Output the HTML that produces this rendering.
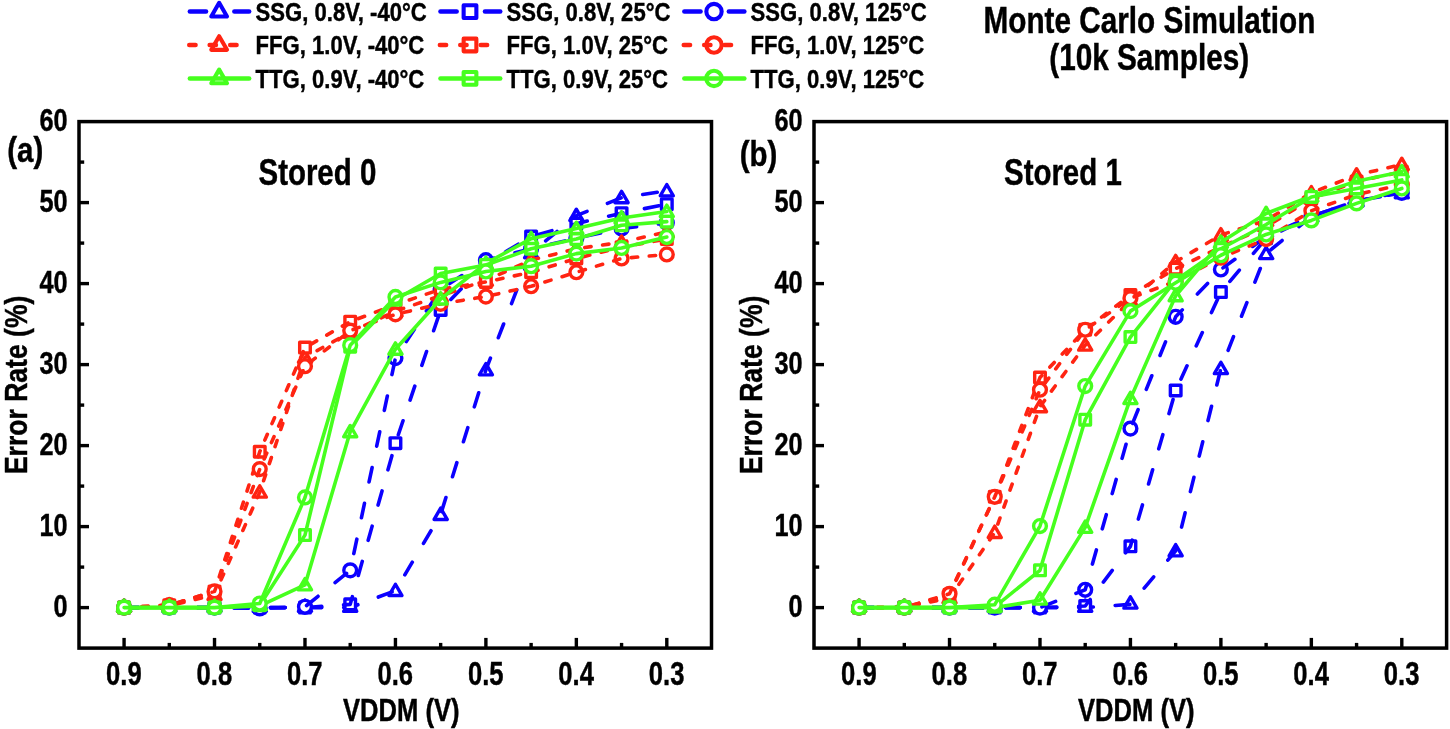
<!DOCTYPE html>
<html><head><meta charset="utf-8"><title>Monte Carlo Simulation</title>
<style>html,body{margin:0;padding:0;background:#fff}svg{display:block;will-change:transform}text{font-family:'Liberation Sans', sans-serif;font-weight:bold;fill:#000;stroke:#000;stroke-width:0.45px}</style></head><body>
<svg width="1450" height="729" viewBox="0 0 1450 729">
<rect width="1450" height="729" fill="#fff"/>
<g stroke-linecap="round" fill="none">
<polygon points="219.15,2.82 227.01,16.44 211.29,16.44" fill="#fff" stroke="#0c00ff" stroke-width="4.1" stroke-linejoin="round"/>
<line x1="189.85" y1="11.6" x2="206.05" y2="11.6" stroke="#0c00ff" stroke-width="4.5"/>
<line x1="234.35" y1="11.6" x2="249.15" y2="11.6" stroke="#0c00ff" stroke-width="4.5"/>
<rect x="463.64" y="5.24" width="12.72" height="12.72" fill="#fff" stroke="#0c00ff" stroke-width="4.1" stroke-linejoin="round"/>
<line x1="440.45" y1="11.6" x2="456.65" y2="11.6" stroke="#0c00ff" stroke-width="4.5"/>
<line x1="484.95" y1="11.6" x2="500.25" y2="11.6" stroke="#0c00ff" stroke-width="4.5"/>
<circle cx="714" cy="11.6" r="7.68" fill="#fff" stroke="#0c00ff" stroke-width="4.1"/>
<line x1="684.35" y1="11.6" x2="700.55" y2="11.6" stroke="#0c00ff" stroke-width="4.5"/>
<line x1="728.85" y1="11.6" x2="744.35" y2="11.6" stroke="#0c00ff" stroke-width="4.5"/>
<polygon points="219.15,36.22 227.01,49.84 211.29,49.84" fill="#fff" stroke="#ff2412" stroke-width="4.1" stroke-linejoin="round"/>
<line x1="189.25" y1="45" x2="195.55" y2="45" stroke="#ff2412" stroke-width="4.5"/>
<line x1="209.65" y1="45" x2="215.95" y2="45" stroke="#ff2412" stroke-width="4.5"/>
<line x1="230.15" y1="45" x2="236.55" y2="45" stroke="#ff2412" stroke-width="4.5"/>
<rect x="463.64" y="38.64" width="12.72" height="12.72" fill="#fff" stroke="#ff2412" stroke-width="4.1" stroke-linejoin="round"/>
<line x1="439.85" y1="45" x2="446.15" y2="45" stroke="#ff2412" stroke-width="4.5"/>
<line x1="460.25" y1="45" x2="466.55" y2="45" stroke="#ff2412" stroke-width="4.5"/>
<line x1="480.75" y1="45" x2="487.15" y2="45" stroke="#ff2412" stroke-width="4.5"/>
<circle cx="714" cy="45" r="7.68" fill="#fff" stroke="#ff2412" stroke-width="4.1"/>
<line x1="683.75" y1="45" x2="690.05" y2="45" stroke="#ff2412" stroke-width="4.5"/>
<line x1="704.15" y1="45" x2="710.45" y2="45" stroke="#ff2412" stroke-width="4.5"/>
<line x1="724.65" y1="45" x2="731.05" y2="45" stroke="#ff2412" stroke-width="4.5"/>
<polygon points="219.15,69.62 227.01,83.24 211.29,83.24" fill="#fff" stroke="#46ff1e" stroke-width="4.1" stroke-linejoin="round"/>
<line x1="189.85" y1="78.4" x2="249.15" y2="78.4" stroke="#46ff1e" stroke-width="4.5"/>
<rect x="463.64" y="72.04" width="12.72" height="12.72" fill="#fff" stroke="#46ff1e" stroke-width="4.1" stroke-linejoin="round"/>
<line x1="440.45" y1="78.4" x2="500.25" y2="78.4" stroke="#46ff1e" stroke-width="4.5"/>
<circle cx="714" cy="78.4" r="7.68" fill="#fff" stroke="#46ff1e" stroke-width="4.1"/>
<line x1="684.35" y1="78.4" x2="744.35" y2="78.4" stroke="#46ff1e" stroke-width="4.5"/>
</g>
<text transform="translate(255.6 20.8) scale(0.83 1)" font-size="26.6" text-anchor="start">SSG, 0.8V, -40°C</text>
<text transform="translate(506.6 20.8) scale(0.83 1)" font-size="26.6" text-anchor="start">SSG, 0.8V, 25°C</text>
<text transform="translate(750.6 20.8) scale(0.83 1)" font-size="26.6" text-anchor="start">SSG, 0.8V, 125°C</text>
<text transform="translate(255.6 54.2) scale(0.83 1)" font-size="26.6" text-anchor="start">FFG, 1.0V, -40°C</text>
<text transform="translate(506.6 54.2) scale(0.83 1)" font-size="26.6" text-anchor="start">FFG, 1.0V, 25°C</text>
<text transform="translate(750.6 54.2) scale(0.83 1)" font-size="26.6" text-anchor="start">FFG, 1.0V, 125°C</text>
<text transform="translate(255.6 87.6) scale(0.83 1)" font-size="26.6" text-anchor="start">TTG, 0.9V, -40°C</text>
<text transform="translate(506.6 87.6) scale(0.83 1)" font-size="26.6" text-anchor="start">TTG, 0.9V, 25°C</text>
<text transform="translate(750.6 87.6) scale(0.83 1)" font-size="26.6" text-anchor="start">TTG, 0.9V, 125°C</text>
<text transform="translate(1149.4 33.4) scale(0.81 1)" font-size="36.7" text-anchor="middle">Monte Carlo Simulation</text>
<text transform="translate(1149.2 69.5) scale(0.81 1)" font-size="36.7" text-anchor="middle">(10k Samples)</text>
<g fill="none" stroke-linecap="round" stroke-linejoin="round">
<polygon points="124.07,600.04 130.62,611.38 117.52,611.38" fill="#fff" stroke="#0c00ff" stroke-width="3.4" stroke-linejoin="round"/>
<polygon points="169.3,600.04 175.85,611.38 162.75,611.38" fill="#fff" stroke="#0c00ff" stroke-width="3.4" stroke-linejoin="round"/>
<polygon points="214.52,600.04 221.07,611.38 207.97,611.38" fill="#fff" stroke="#0c00ff" stroke-width="3.4" stroke-linejoin="round"/>
<polygon points="259.75,600.04 266.3,611.38 253.2,611.38" fill="#fff" stroke="#0c00ff" stroke-width="3.4" stroke-linejoin="round"/>
<polygon points="304.98,600.04 311.53,611.38 298.43,611.38" fill="#fff" stroke="#0c00ff" stroke-width="3.4" stroke-linejoin="round"/>
<polygon points="350.21,600.04 356.76,611.38 343.66,611.38" fill="#fff" stroke="#0c00ff" stroke-width="3.4" stroke-linejoin="round"/>
<polygon points="395.44,584.23 401.99,595.57 388.88,595.57" fill="#fff" stroke="#0c00ff" stroke-width="3.4" stroke-linejoin="round"/>
<polygon points="440.66,508.09 447.21,519.43 434.11,519.43" fill="#fff" stroke="#0c00ff" stroke-width="3.4" stroke-linejoin="round"/>
<polygon points="485.89,363.5 492.44,374.85 479.34,374.85" fill="#fff" stroke="#0c00ff" stroke-width="3.4" stroke-linejoin="round"/>
<polygon points="531.12,246.46 537.67,257.8 524.57,257.8" fill="#fff" stroke="#0c00ff" stroke-width="3.4" stroke-linejoin="round"/>
<polygon points="576.35,209.2 582.89,220.54 569.8,220.54" fill="#fff" stroke="#0c00ff" stroke-width="3.4" stroke-linejoin="round"/>
<polygon points="621.57,191.38 628.12,202.72 615.02,202.72" fill="#fff" stroke="#0c00ff" stroke-width="3.4" stroke-linejoin="round"/>
<polygon points="666.8,184.49 673.35,195.84 660.25,195.84" fill="#fff" stroke="#0c00ff" stroke-width="3.4" stroke-linejoin="round"/>
<polyline points="124.07,607.6 169.3,607.6 214.52,607.6 259.75,607.6 304.98,607.6 350.21,607.6 395.44,590.59 440.66,514.45 485.89,369.87 531.12,252.82 576.35,215.56 621.57,197.74 666.8,190.85" stroke="#0c00ff" stroke-width="3.6" stroke-dasharray="14.7 21.9"/>
<rect x="118.77" y="602.3" width="10.6" height="10.6" fill="#fff" stroke="#0c00ff" stroke-width="3.4" stroke-linejoin="round"/>
<rect x="164" y="602.3" width="10.6" height="10.6" fill="#fff" stroke="#0c00ff" stroke-width="3.4" stroke-linejoin="round"/>
<rect x="209.22" y="602.3" width="10.6" height="10.6" fill="#fff" stroke="#0c00ff" stroke-width="3.4" stroke-linejoin="round"/>
<rect x="254.45" y="602.3" width="10.6" height="10.6" fill="#fff" stroke="#0c00ff" stroke-width="3.4" stroke-linejoin="round"/>
<rect x="299.68" y="602.3" width="10.6" height="10.6" fill="#fff" stroke="#0c00ff" stroke-width="3.4" stroke-linejoin="round"/>
<rect x="344.91" y="599.06" width="10.6" height="10.6" fill="#fff" stroke="#0c00ff" stroke-width="3.4" stroke-linejoin="round"/>
<rect x="390.13" y="437.87" width="10.6" height="10.6" fill="#fff" stroke="#0c00ff" stroke-width="3.4" stroke-linejoin="round"/>
<rect x="435.36" y="304.62" width="10.6" height="10.6" fill="#fff" stroke="#0c00ff" stroke-width="3.4" stroke-linejoin="round"/>
<rect x="480.59" y="258.05" width="10.6" height="10.6" fill="#fff" stroke="#0c00ff" stroke-width="3.4" stroke-linejoin="round"/>
<rect x="525.82" y="231.32" width="10.6" height="10.6" fill="#fff" stroke="#0c00ff" stroke-width="3.4" stroke-linejoin="round"/>
<rect x="571.05" y="218.36" width="10.6" height="10.6" fill="#fff" stroke="#0c00ff" stroke-width="3.4" stroke-linejoin="round"/>
<rect x="616.27" y="207.83" width="10.6" height="10.6" fill="#fff" stroke="#0c00ff" stroke-width="3.4" stroke-linejoin="round"/>
<rect x="661.5" y="198.92" width="10.6" height="10.6" fill="#fff" stroke="#0c00ff" stroke-width="3.4" stroke-linejoin="round"/>
<polyline points="124.07,607.6 169.3,607.6 214.52,607.6 259.75,607.6 304.98,607.6 350.21,604.36 395.44,443.17 440.66,309.93 485.89,263.35 531.12,236.62 576.35,223.66 621.57,213.13 666.8,204.22" stroke="#0c00ff" stroke-width="3.6" stroke-dasharray="14.7 21.9"/>
<circle cx="124.07" cy="607.6" r="6.4" fill="#fff" stroke="#0c00ff" stroke-width="3.4"/>
<circle cx="169.3" cy="607.6" r="6.4" fill="#fff" stroke="#0c00ff" stroke-width="3.4"/>
<circle cx="214.52" cy="607.6" r="6.4" fill="#fff" stroke="#0c00ff" stroke-width="3.4"/>
<circle cx="259.75" cy="608.41" r="6.4" fill="#fff" stroke="#0c00ff" stroke-width="3.4"/>
<circle cx="304.98" cy="606.79" r="6.4" fill="#fff" stroke="#0c00ff" stroke-width="3.4"/>
<circle cx="350.21" cy="570.34" r="6.4" fill="#fff" stroke="#0c00ff" stroke-width="3.4"/>
<circle cx="395.44" cy="358.12" r="6.4" fill="#fff" stroke="#0c00ff" stroke-width="3.4"/>
<circle cx="440.66" cy="289.27" r="6.4" fill="#fff" stroke="#0c00ff" stroke-width="3.4"/>
<circle cx="485.89" cy="260.11" r="6.4" fill="#fff" stroke="#0c00ff" stroke-width="3.4"/>
<circle cx="531.12" cy="248.77" r="6.4" fill="#fff" stroke="#0c00ff" stroke-width="3.4"/>
<circle cx="576.35" cy="238.24" r="6.4" fill="#fff" stroke="#0c00ff" stroke-width="3.4"/>
<circle cx="621.57" cy="228.52" r="6.4" fill="#fff" stroke="#0c00ff" stroke-width="3.4"/>
<circle cx="666.8" cy="222.85" r="6.4" fill="#fff" stroke="#0c00ff" stroke-width="3.4"/>
<polyline points="124.07,607.6 169.3,607.6 214.52,607.6 259.75,608.41 304.98,606.79 350.21,570.34 395.44,358.12 440.66,289.27 485.89,260.11 531.12,248.77 576.35,238.24 621.57,228.52 666.8,222.85" stroke="#0c00ff" stroke-width="3.6" stroke-dasharray="14.7 21.9"/>
<polygon points="124.07,600.04 130.62,611.38 117.52,611.38" fill="#fff" stroke="#ff2412" stroke-width="3.4" stroke-linejoin="round"/>
<polygon points="169.3,598.42 175.85,609.76 162.75,609.76" fill="#fff" stroke="#ff2412" stroke-width="3.4" stroke-linejoin="round"/>
<polygon points="214.52,588.28 221.07,599.62 207.97,599.62" fill="#fff" stroke="#ff2412" stroke-width="3.4" stroke-linejoin="round"/>
<polygon points="259.75,485.81 266.3,497.16 253.2,497.16" fill="#fff" stroke="#ff2412" stroke-width="3.4" stroke-linejoin="round"/>
<polygon points="304.98,350.95 311.53,362.29 298.43,362.29" fill="#fff" stroke="#ff2412" stroke-width="3.4" stroke-linejoin="round"/>
<polygon points="350.21,325.84 356.76,337.18 343.66,337.18" fill="#fff" stroke="#ff2412" stroke-width="3.4" stroke-linejoin="round"/>
<polygon points="395.44,304.78 401.99,316.12 388.88,316.12" fill="#fff" stroke="#ff2412" stroke-width="3.4" stroke-linejoin="round"/>
<polygon points="440.66,289.39 447.21,300.73 434.11,300.73" fill="#fff" stroke="#ff2412" stroke-width="3.4" stroke-linejoin="round"/>
<polygon points="485.89,274 492.44,285.34 479.34,285.34" fill="#fff" stroke="#ff2412" stroke-width="3.4" stroke-linejoin="round"/>
<polygon points="531.12,253.75 537.67,265.09 524.57,265.09" fill="#fff" stroke="#ff2412" stroke-width="3.4" stroke-linejoin="round"/>
<polygon points="576.35,242.41 582.89,253.75 569.8,253.75" fill="#fff" stroke="#ff2412" stroke-width="3.4" stroke-linejoin="round"/>
<polygon points="621.57,235.93 628.12,247.27 615.02,247.27" fill="#fff" stroke="#ff2412" stroke-width="3.4" stroke-linejoin="round"/>
<polygon points="666.8,225.4 673.35,236.74 660.25,236.74" fill="#fff" stroke="#ff2412" stroke-width="3.4" stroke-linejoin="round"/>
<polyline points="124.07,607.6 169.3,605.98 214.52,594.64 259.75,492.18 304.98,357.31 350.21,332.2 395.44,311.14 440.66,295.75 485.89,280.36 531.12,260.11 576.35,248.77 621.57,242.29 666.8,231.76" stroke="#ff2412" stroke-width="3.6" stroke-dasharray="6.4 11.6"/>
<rect x="118.77" y="602.3" width="10.6" height="10.6" fill="#fff" stroke="#ff2412" stroke-width="3.4" stroke-linejoin="round"/>
<rect x="164" y="599.87" width="10.6" height="10.6" fill="#fff" stroke="#ff2412" stroke-width="3.4" stroke-linejoin="round"/>
<rect x="209.22" y="586.1" width="10.6" height="10.6" fill="#fff" stroke="#ff2412" stroke-width="3.4" stroke-linejoin="round"/>
<rect x="254.45" y="446.46" width="10.6" height="10.6" fill="#fff" stroke="#ff2412" stroke-width="3.4" stroke-linejoin="round"/>
<rect x="299.68" y="342.29" width="10.6" height="10.6" fill="#fff" stroke="#ff2412" stroke-width="3.4" stroke-linejoin="round"/>
<rect x="344.91" y="316.37" width="10.6" height="10.6" fill="#fff" stroke="#ff2412" stroke-width="3.4" stroke-linejoin="round"/>
<rect x="390.13" y="299.36" width="10.6" height="10.6" fill="#fff" stroke="#ff2412" stroke-width="3.4" stroke-linejoin="round"/>
<rect x="435.36" y="283.97" width="10.6" height="10.6" fill="#fff" stroke="#ff2412" stroke-width="3.4" stroke-linejoin="round"/>
<rect x="480.59" y="276.68" width="10.6" height="10.6" fill="#fff" stroke="#ff2412" stroke-width="3.4" stroke-linejoin="round"/>
<rect x="525.82" y="266.96" width="10.6" height="10.6" fill="#fff" stroke="#ff2412" stroke-width="3.4" stroke-linejoin="round"/>
<rect x="571.05" y="253.19" width="10.6" height="10.6" fill="#fff" stroke="#ff2412" stroke-width="3.4" stroke-linejoin="round"/>
<rect x="616.27" y="241.85" width="10.6" height="10.6" fill="#fff" stroke="#ff2412" stroke-width="3.4" stroke-linejoin="round"/>
<rect x="661.5" y="233.75" width="10.6" height="10.6" fill="#fff" stroke="#ff2412" stroke-width="3.4" stroke-linejoin="round"/>
<polyline points="124.07,607.6 169.3,605.17 214.52,591.4 259.75,451.76 304.98,347.59 350.21,321.67 395.44,304.66 440.66,289.27 485.89,281.98 531.12,272.26 576.35,258.49 621.57,247.15 666.8,239.05" stroke="#ff2412" stroke-width="3.6" stroke-dasharray="6.4 11.6"/>
<circle cx="124.07" cy="607.6" r="6.4" fill="#fff" stroke="#ff2412" stroke-width="3.4"/>
<circle cx="169.3" cy="605.17" r="6.4" fill="#fff" stroke="#ff2412" stroke-width="3.4"/>
<circle cx="214.52" cy="591.4" r="6.4" fill="#fff" stroke="#ff2412" stroke-width="3.4"/>
<circle cx="259.75" cy="469.09" r="6.4" fill="#fff" stroke="#ff2412" stroke-width="3.4"/>
<circle cx="304.98" cy="366.22" r="6.4" fill="#fff" stroke="#ff2412" stroke-width="3.4"/>
<circle cx="350.21" cy="330.58" r="6.4" fill="#fff" stroke="#ff2412" stroke-width="3.4"/>
<circle cx="395.44" cy="314.38" r="6.4" fill="#fff" stroke="#ff2412" stroke-width="3.4"/>
<circle cx="440.66" cy="303.85" r="6.4" fill="#fff" stroke="#ff2412" stroke-width="3.4"/>
<circle cx="485.89" cy="296.56" r="6.4" fill="#fff" stroke="#ff2412" stroke-width="3.4"/>
<circle cx="531.12" cy="286.27" r="6.4" fill="#fff" stroke="#ff2412" stroke-width="3.4"/>
<circle cx="576.35" cy="272.26" r="6.4" fill="#fff" stroke="#ff2412" stroke-width="3.4"/>
<circle cx="621.57" cy="258.49" r="6.4" fill="#fff" stroke="#ff2412" stroke-width="3.4"/>
<circle cx="666.8" cy="254.44" r="6.4" fill="#fff" stroke="#ff2412" stroke-width="3.4"/>
<polyline points="124.07,607.6 169.3,605.17 214.52,591.4 259.75,469.09 304.98,366.22 350.21,330.58 395.44,314.38 440.66,303.85 485.89,296.56 531.12,286.27 576.35,272.26 621.57,258.49 666.8,254.44" stroke="#ff2412" stroke-width="3.6" stroke-dasharray="6.4 11.6"/>
<polygon points="124.07,600.04 130.62,611.38 117.52,611.38" fill="#fff" stroke="#46ff1e" stroke-width="3.4" stroke-linejoin="round"/>
<polygon points="169.3,600.04 175.85,611.38 162.75,611.38" fill="#fff" stroke="#46ff1e" stroke-width="3.4" stroke-linejoin="round"/>
<polygon points="214.52,600.04 221.07,611.38 207.97,611.38" fill="#fff" stroke="#46ff1e" stroke-width="3.4" stroke-linejoin="round"/>
<polygon points="259.75,598.42 266.3,609.76 253.2,609.76" fill="#fff" stroke="#46ff1e" stroke-width="3.4" stroke-linejoin="round"/>
<polygon points="304.98,578.56 311.53,589.9 298.43,589.9" fill="#fff" stroke="#46ff1e" stroke-width="3.4" stroke-linejoin="round"/>
<polygon points="350.21,425.47 356.76,436.81 343.66,436.81" fill="#fff" stroke="#46ff1e" stroke-width="3.4" stroke-linejoin="round"/>
<polygon points="395.44,342.85 401.99,354.19 388.88,354.19" fill="#fff" stroke="#46ff1e" stroke-width="3.4" stroke-linejoin="round"/>
<polygon points="440.66,292.63 447.21,303.97 434.11,303.97" fill="#fff" stroke="#46ff1e" stroke-width="3.4" stroke-linejoin="round"/>
<polygon points="485.89,256.99 492.44,268.33 479.34,268.33" fill="#fff" stroke="#46ff1e" stroke-width="3.4" stroke-linejoin="round"/>
<polygon points="531.12,232.28 537.67,243.63 524.57,243.63" fill="#fff" stroke="#46ff1e" stroke-width="3.4" stroke-linejoin="round"/>
<polygon points="576.35,222.16 582.89,233.5 569.8,233.5" fill="#fff" stroke="#46ff1e" stroke-width="3.4" stroke-linejoin="round"/>
<polygon points="621.57,211.63 628.12,222.97 615.02,222.97" fill="#fff" stroke="#46ff1e" stroke-width="3.4" stroke-linejoin="round"/>
<polygon points="666.8,205.15 673.35,216.49 660.25,216.49" fill="#fff" stroke="#46ff1e" stroke-width="3.4" stroke-linejoin="round"/>
<polyline points="124.07,607.6 169.3,607.6 214.52,607.6 259.75,605.98 304.98,584.92 350.21,431.83 395.44,349.21 440.66,298.99 485.89,263.35 531.12,238.65 576.35,228.52 621.57,217.99 666.8,211.51" stroke="#46ff1e" stroke-width="3.6"/>
<rect x="118.77" y="602.3" width="10.6" height="10.6" fill="#fff" stroke="#46ff1e" stroke-width="3.4" stroke-linejoin="round"/>
<rect x="164" y="602.3" width="10.6" height="10.6" fill="#fff" stroke="#46ff1e" stroke-width="3.4" stroke-linejoin="round"/>
<rect x="209.22" y="602.3" width="10.6" height="10.6" fill="#fff" stroke="#46ff1e" stroke-width="3.4" stroke-linejoin="round"/>
<rect x="254.45" y="599.87" width="10.6" height="10.6" fill="#fff" stroke="#46ff1e" stroke-width="3.4" stroke-linejoin="round"/>
<rect x="299.68" y="529.81" width="10.6" height="10.6" fill="#fff" stroke="#46ff1e" stroke-width="3.4" stroke-linejoin="round"/>
<rect x="344.91" y="341.48" width="10.6" height="10.6" fill="#fff" stroke="#46ff1e" stroke-width="3.4" stroke-linejoin="round"/>
<rect x="390.13" y="294.5" width="10.6" height="10.6" fill="#fff" stroke="#46ff1e" stroke-width="3.4" stroke-linejoin="round"/>
<rect x="435.36" y="268.18" width="10.6" height="10.6" fill="#fff" stroke="#46ff1e" stroke-width="3.4" stroke-linejoin="round"/>
<rect x="480.59" y="259.67" width="10.6" height="10.6" fill="#fff" stroke="#46ff1e" stroke-width="3.4" stroke-linejoin="round"/>
<rect x="525.82" y="243.47" width="10.6" height="10.6" fill="#fff" stroke="#46ff1e" stroke-width="3.4" stroke-linejoin="round"/>
<rect x="571.05" y="233.75" width="10.6" height="10.6" fill="#fff" stroke="#46ff1e" stroke-width="3.4" stroke-linejoin="round"/>
<rect x="616.27" y="219.98" width="10.6" height="10.6" fill="#fff" stroke="#46ff1e" stroke-width="3.4" stroke-linejoin="round"/>
<rect x="661.5" y="216.34" width="10.6" height="10.6" fill="#fff" stroke="#46ff1e" stroke-width="3.4" stroke-linejoin="round"/>
<polyline points="124.07,607.6 169.3,607.6 214.52,607.6 259.75,605.17 304.98,535.11 350.21,346.78 395.44,299.8 440.66,273.48 485.89,264.97 531.12,248.77 576.35,239.05 621.57,225.28 666.8,221.64" stroke="#46ff1e" stroke-width="3.6"/>
<circle cx="124.07" cy="607.6" r="6.4" fill="#fff" stroke="#46ff1e" stroke-width="3.4"/>
<circle cx="169.3" cy="607.6" r="6.4" fill="#fff" stroke="#46ff1e" stroke-width="3.4"/>
<circle cx="214.52" cy="607.6" r="6.4" fill="#fff" stroke="#46ff1e" stroke-width="3.4"/>
<circle cx="259.75" cy="603.55" r="6.4" fill="#fff" stroke="#46ff1e" stroke-width="3.4"/>
<circle cx="304.98" cy="497.44" r="6.4" fill="#fff" stroke="#46ff1e" stroke-width="3.4"/>
<circle cx="350.21" cy="345.16" r="6.4" fill="#fff" stroke="#46ff1e" stroke-width="3.4"/>
<circle cx="395.44" cy="296.96" r="6.4" fill="#fff" stroke="#46ff1e" stroke-width="3.4"/>
<circle cx="440.66" cy="282.39" r="6.4" fill="#fff" stroke="#46ff1e" stroke-width="3.4"/>
<circle cx="485.89" cy="271.45" r="6.4" fill="#fff" stroke="#46ff1e" stroke-width="3.4"/>
<circle cx="531.12" cy="266.19" r="6.4" fill="#fff" stroke="#46ff1e" stroke-width="3.4"/>
<circle cx="576.35" cy="253.63" r="6.4" fill="#fff" stroke="#46ff1e" stroke-width="3.4"/>
<circle cx="621.57" cy="247.96" r="6.4" fill="#fff" stroke="#46ff1e" stroke-width="3.4"/>
<circle cx="666.8" cy="237.03" r="6.4" fill="#fff" stroke="#46ff1e" stroke-width="3.4"/>
<polyline points="124.07,607.6 169.3,607.6 214.52,607.6 259.75,603.55 304.98,497.44 350.21,345.16 395.44,296.96 440.66,282.39 485.89,271.45 531.12,266.19 576.35,253.63 621.57,247.96 666.8,237.03" stroke="#46ff1e" stroke-width="3.6"/>
</g>
<rect x="79" y="121.6" width="632.5" height="526.5" fill="none" stroke="#000" stroke-width="3.5"/>
<g stroke="#000" stroke-width="3.4">
<line x1="79" y1="607.6" x2="89" y2="607.6"/>
<line x1="79" y1="567.1" x2="84.2" y2="567.1"/>
<line x1="79" y1="526.6" x2="89" y2="526.6"/>
<line x1="79" y1="486.1" x2="84.2" y2="486.1"/>
<line x1="79" y1="445.6" x2="89" y2="445.6"/>
<line x1="79" y1="405.1" x2="84.2" y2="405.1"/>
<line x1="79" y1="364.6" x2="89" y2="364.6"/>
<line x1="79" y1="324.1" x2="84.2" y2="324.1"/>
<line x1="79" y1="283.6" x2="89" y2="283.6"/>
<line x1="79" y1="243.1" x2="84.2" y2="243.1"/>
<line x1="79" y1="202.6" x2="89" y2="202.6"/>
<line x1="79" y1="162.1" x2="84.2" y2="162.1"/>
<line x1="124.07" y1="648.1" x2="124.07" y2="637.9"/>
<line x1="169.3" y1="648.1" x2="169.3" y2="642.9"/>
<line x1="214.52" y1="648.1" x2="214.52" y2="637.9"/>
<line x1="259.75" y1="648.1" x2="259.75" y2="642.9"/>
<line x1="304.98" y1="648.1" x2="304.98" y2="637.9"/>
<line x1="350.21" y1="648.1" x2="350.21" y2="642.9"/>
<line x1="395.44" y1="648.1" x2="395.44" y2="637.9"/>
<line x1="440.66" y1="648.1" x2="440.66" y2="642.9"/>
<line x1="485.89" y1="648.1" x2="485.89" y2="637.9"/>
<line x1="531.12" y1="648.1" x2="531.12" y2="642.9"/>
<line x1="576.35" y1="648.1" x2="576.35" y2="637.9"/>
<line x1="621.57" y1="648.1" x2="621.57" y2="642.9"/>
<line x1="666.8" y1="648.1" x2="666.8" y2="637.9"/>
</g>
<text transform="translate(67.6 617.3) scale(0.79 1)" font-size="32" text-anchor="end">0</text>
<text transform="translate(67.6 536.3) scale(0.79 1)" font-size="32" text-anchor="end">10</text>
<text transform="translate(67.6 455.3) scale(0.79 1)" font-size="32" text-anchor="end">20</text>
<text transform="translate(67.6 374.3) scale(0.79 1)" font-size="32" text-anchor="end">30</text>
<text transform="translate(67.6 293.3) scale(0.79 1)" font-size="32" text-anchor="end">40</text>
<text transform="translate(67.6 212.3) scale(0.79 1)" font-size="32" text-anchor="end">50</text>
<text transform="translate(67.6 131.3) scale(0.79 1)" font-size="32" text-anchor="end">60</text>
<text transform="translate(123.87 685) scale(0.79 1)" font-size="32.4" text-anchor="middle">0.9</text>
<text transform="translate(214.32 685) scale(0.79 1)" font-size="32.4" text-anchor="middle">0.8</text>
<text transform="translate(304.78 685) scale(0.79 1)" font-size="32.4" text-anchor="middle">0.7</text>
<text transform="translate(395.24 685) scale(0.79 1)" font-size="32.4" text-anchor="middle">0.6</text>
<text transform="translate(485.69 685) scale(0.79 1)" font-size="32.4" text-anchor="middle">0.5</text>
<text transform="translate(576.14 685) scale(0.79 1)" font-size="32.4" text-anchor="middle">0.4</text>
<text transform="translate(666.6 685) scale(0.79 1)" font-size="32.4" text-anchor="middle">0.3</text>
<text transform="translate(401.25 721) scale(0.8 1)" font-size="32" text-anchor="middle">VDDM (V)</text>
<text transform="translate(27.4 384.85) rotate(-90) scale(0.83 1)" font-size="32" text-anchor="middle">Error Rate (%)</text>
<g fill="none" stroke-linecap="round" stroke-linejoin="round">
<polygon points="859.07,600.04 865.62,611.38 852.52,611.38" fill="#fff" stroke="#0c00ff" stroke-width="3.4" stroke-linejoin="round"/>
<polygon points="904.3,600.04 910.85,611.38 897.75,611.38" fill="#fff" stroke="#0c00ff" stroke-width="3.4" stroke-linejoin="round"/>
<polygon points="949.52,600.04 956.07,611.38 942.98,611.38" fill="#fff" stroke="#0c00ff" stroke-width="3.4" stroke-linejoin="round"/>
<polygon points="994.75,600.04 1001.3,611.38 988.2,611.38" fill="#fff" stroke="#0c00ff" stroke-width="3.4" stroke-linejoin="round"/>
<polygon points="1039.98,600.04 1046.53,611.38 1033.43,611.38" fill="#fff" stroke="#0c00ff" stroke-width="3.4" stroke-linejoin="round"/>
<polygon points="1085.21,600.04 1091.76,611.38 1078.66,611.38" fill="#fff" stroke="#0c00ff" stroke-width="3.4" stroke-linejoin="round"/>
<polygon points="1130.43,596.8 1136.98,608.14 1123.88,608.14" fill="#fff" stroke="#0c00ff" stroke-width="3.4" stroke-linejoin="round"/>
<polygon points="1175.66,544.54 1182.21,555.88 1169.11,555.88" fill="#fff" stroke="#0c00ff" stroke-width="3.4" stroke-linejoin="round"/>
<polygon points="1220.89,362.29 1227.44,373.63 1214.34,373.63" fill="#fff" stroke="#0c00ff" stroke-width="3.4" stroke-linejoin="round"/>
<polygon points="1266.12,247.27 1272.67,258.61 1259.57,258.61" fill="#fff" stroke="#0c00ff" stroke-width="3.4" stroke-linejoin="round"/>
<polygon points="1311.35,210.01 1317.89,221.35 1304.8,221.35" fill="#fff" stroke="#0c00ff" stroke-width="3.4" stroke-linejoin="round"/>
<polygon points="1356.57,194.62 1363.12,205.96 1350.02,205.96" fill="#fff" stroke="#0c00ff" stroke-width="3.4" stroke-linejoin="round"/>
<polygon points="1401.8,186.52 1408.35,197.86 1395.25,197.86" fill="#fff" stroke="#0c00ff" stroke-width="3.4" stroke-linejoin="round"/>
<polyline points="859.07,607.6 904.3,607.6 949.52,607.6 994.75,607.6 1039.98,607.6 1085.21,607.6 1130.43,604.36 1175.66,550.9 1220.89,368.65 1266.12,253.63 1311.35,216.37 1356.57,200.98 1401.8,192.88" stroke="#0c00ff" stroke-width="3.6" stroke-dasharray="14.7 21.9"/>
<rect x="853.77" y="602.3" width="10.6" height="10.6" fill="#fff" stroke="#0c00ff" stroke-width="3.4" stroke-linejoin="round"/>
<rect x="899" y="602.3" width="10.6" height="10.6" fill="#fff" stroke="#0c00ff" stroke-width="3.4" stroke-linejoin="round"/>
<rect x="944.23" y="602.3" width="10.6" height="10.6" fill="#fff" stroke="#0c00ff" stroke-width="3.4" stroke-linejoin="round"/>
<rect x="989.45" y="602.3" width="10.6" height="10.6" fill="#fff" stroke="#0c00ff" stroke-width="3.4" stroke-linejoin="round"/>
<rect x="1034.68" y="602.3" width="10.6" height="10.6" fill="#fff" stroke="#0c00ff" stroke-width="3.4" stroke-linejoin="round"/>
<rect x="1079.91" y="600.68" width="10.6" height="10.6" fill="#fff" stroke="#0c00ff" stroke-width="3.4" stroke-linejoin="round"/>
<rect x="1125.13" y="541.06" width="10.6" height="10.6" fill="#fff" stroke="#0c00ff" stroke-width="3.4" stroke-linejoin="round"/>
<rect x="1170.36" y="385.22" width="10.6" height="10.6" fill="#fff" stroke="#0c00ff" stroke-width="3.4" stroke-linejoin="round"/>
<rect x="1215.59" y="286.8" width="10.6" height="10.6" fill="#fff" stroke="#0c00ff" stroke-width="3.4" stroke-linejoin="round"/>
<rect x="1260.82" y="232.94" width="10.6" height="10.6" fill="#fff" stroke="#0c00ff" stroke-width="3.4" stroke-linejoin="round"/>
<rect x="1306.05" y="211.07" width="10.6" height="10.6" fill="#fff" stroke="#0c00ff" stroke-width="3.4" stroke-linejoin="round"/>
<rect x="1351.27" y="195.68" width="10.6" height="10.6" fill="#fff" stroke="#0c00ff" stroke-width="3.4" stroke-linejoin="round"/>
<rect x="1396.5" y="186.77" width="10.6" height="10.6" fill="#fff" stroke="#0c00ff" stroke-width="3.4" stroke-linejoin="round"/>
<polyline points="859.07,607.6 904.3,607.6 949.52,607.6 994.75,607.6 1039.98,607.6 1085.21,605.98 1130.43,546.36 1175.66,390.52 1220.89,292.1 1266.12,238.24 1311.35,216.37 1356.57,200.98 1401.8,192.07" stroke="#0c00ff" stroke-width="3.6" stroke-dasharray="14.7 21.9"/>
<circle cx="859.07" cy="607.6" r="6.4" fill="#fff" stroke="#0c00ff" stroke-width="3.4"/>
<circle cx="904.3" cy="607.6" r="6.4" fill="#fff" stroke="#0c00ff" stroke-width="3.4"/>
<circle cx="949.52" cy="607.6" r="6.4" fill="#fff" stroke="#0c00ff" stroke-width="3.4"/>
<circle cx="994.75" cy="607.6" r="6.4" fill="#fff" stroke="#0c00ff" stroke-width="3.4"/>
<circle cx="1039.98" cy="607.6" r="6.4" fill="#fff" stroke="#0c00ff" stroke-width="3.4"/>
<circle cx="1085.21" cy="589.78" r="6.4" fill="#fff" stroke="#0c00ff" stroke-width="3.4"/>
<circle cx="1130.43" cy="428.59" r="6.4" fill="#fff" stroke="#0c00ff" stroke-width="3.4"/>
<circle cx="1175.66" cy="316.81" r="6.4" fill="#fff" stroke="#0c00ff" stroke-width="3.4"/>
<circle cx="1220.89" cy="269.43" r="6.4" fill="#fff" stroke="#0c00ff" stroke-width="3.4"/>
<circle cx="1266.12" cy="236.62" r="6.4" fill="#fff" stroke="#0c00ff" stroke-width="3.4"/>
<circle cx="1311.35" cy="216.37" r="6.4" fill="#fff" stroke="#0c00ff" stroke-width="3.4"/>
<circle cx="1356.57" cy="200.98" r="6.4" fill="#fff" stroke="#0c00ff" stroke-width="3.4"/>
<circle cx="1401.8" cy="192.88" r="6.4" fill="#fff" stroke="#0c00ff" stroke-width="3.4"/>
<polyline points="859.07,607.6 904.3,607.6 949.52,607.6 994.75,607.6 1039.98,607.6 1085.21,589.78 1130.43,428.59 1175.66,316.81 1220.89,269.43 1266.12,236.62 1311.35,216.37 1356.57,200.98 1401.8,192.88" stroke="#0c00ff" stroke-width="3.6" stroke-dasharray="14.7 21.9"/>
<polygon points="859.07,600.04 865.62,611.38 852.52,611.38" fill="#fff" stroke="#ff2412" stroke-width="3.4" stroke-linejoin="round"/>
<polygon points="904.3,600.04 910.85,611.38 897.75,611.38" fill="#fff" stroke="#ff2412" stroke-width="3.4" stroke-linejoin="round"/>
<polygon points="949.52,591.52 956.07,602.86 942.98,602.86" fill="#fff" stroke="#ff2412" stroke-width="3.4" stroke-linejoin="round"/>
<polygon points="994.75,526.15 1001.3,537.49 988.2,537.49" fill="#fff" stroke="#ff2412" stroke-width="3.4" stroke-linejoin="round"/>
<polygon points="1039.98,400.36 1046.53,411.7 1033.43,411.7" fill="#fff" stroke="#ff2412" stroke-width="3.4" stroke-linejoin="round"/>
<polygon points="1085.21,338.8 1091.76,350.14 1078.66,350.14" fill="#fff" stroke="#ff2412" stroke-width="3.4" stroke-linejoin="round"/>
<polygon points="1130.43,294.25 1136.98,305.59 1123.88,305.59" fill="#fff" stroke="#ff2412" stroke-width="3.4" stroke-linejoin="round"/>
<polygon points="1175.66,255.37 1182.21,266.71 1169.11,266.71" fill="#fff" stroke="#ff2412" stroke-width="3.4" stroke-linejoin="round"/>
<polygon points="1220.89,228.64 1227.44,239.98 1214.34,239.98" fill="#fff" stroke="#ff2412" stroke-width="3.4" stroke-linejoin="round"/>
<polygon points="1266.12,214.06 1272.67,225.4 1259.57,225.4" fill="#fff" stroke="#ff2412" stroke-width="3.4" stroke-linejoin="round"/>
<polygon points="1311.35,186.52 1317.89,197.86 1304.8,197.86" fill="#fff" stroke="#ff2412" stroke-width="3.4" stroke-linejoin="round"/>
<polygon points="1356.57,168.7 1363.12,180.04 1350.02,180.04" fill="#fff" stroke="#ff2412" stroke-width="3.4" stroke-linejoin="round"/>
<polygon points="1401.8,158.17 1408.35,169.51 1395.25,169.51" fill="#fff" stroke="#ff2412" stroke-width="3.4" stroke-linejoin="round"/>
<polyline points="859.07,607.6 904.3,607.6 949.52,597.88 994.75,532.51 1039.98,406.72 1085.21,345.16 1130.43,300.61 1175.66,261.73 1220.89,235 1266.12,220.42 1311.35,192.88 1356.57,175.06 1401.8,164.53" stroke="#ff2412" stroke-width="3.6" stroke-dasharray="6.4 11.6"/>
<rect x="853.77" y="602.3" width="10.6" height="10.6" fill="#fff" stroke="#ff2412" stroke-width="3.4" stroke-linejoin="round"/>
<rect x="899" y="602.3" width="10.6" height="10.6" fill="#fff" stroke="#ff2412" stroke-width="3.4" stroke-linejoin="round"/>
<rect x="944.23" y="589.34" width="10.6" height="10.6" fill="#fff" stroke="#ff2412" stroke-width="3.4" stroke-linejoin="round"/>
<rect x="989.45" y="491.49" width="10.6" height="10.6" fill="#fff" stroke="#ff2412" stroke-width="3.4" stroke-linejoin="round"/>
<rect x="1034.68" y="372.26" width="10.6" height="10.6" fill="#fff" stroke="#ff2412" stroke-width="3.4" stroke-linejoin="round"/>
<rect x="1079.91" y="324.47" width="10.6" height="10.6" fill="#fff" stroke="#ff2412" stroke-width="3.4" stroke-linejoin="round"/>
<rect x="1125.13" y="289.64" width="10.6" height="10.6" fill="#fff" stroke="#ff2412" stroke-width="3.4" stroke-linejoin="round"/>
<rect x="1170.36" y="263.4" width="10.6" height="10.6" fill="#fff" stroke="#ff2412" stroke-width="3.4" stroke-linejoin="round"/>
<rect x="1215.59" y="241.85" width="10.6" height="10.6" fill="#fff" stroke="#ff2412" stroke-width="3.4" stroke-linejoin="round"/>
<rect x="1260.82" y="221.6" width="10.6" height="10.6" fill="#fff" stroke="#ff2412" stroke-width="3.4" stroke-linejoin="round"/>
<rect x="1306.05" y="193.25" width="10.6" height="10.6" fill="#fff" stroke="#ff2412" stroke-width="3.4" stroke-linejoin="round"/>
<rect x="1351.27" y="176.24" width="10.6" height="10.6" fill="#fff" stroke="#ff2412" stroke-width="3.4" stroke-linejoin="round"/>
<rect x="1396.5" y="166.52" width="10.6" height="10.6" fill="#fff" stroke="#ff2412" stroke-width="3.4" stroke-linejoin="round"/>
<polyline points="859.07,607.6 904.3,607.6 949.52,594.64 994.75,496.79 1039.98,377.56 1085.21,329.77 1130.43,294.94 1175.66,268.7 1220.89,247.15 1266.12,226.9 1311.35,198.55 1356.57,181.54 1401.8,171.82" stroke="#ff2412" stroke-width="3.6" stroke-dasharray="6.4 11.6"/>
<circle cx="859.07" cy="607.6" r="6.4" fill="#fff" stroke="#ff2412" stroke-width="3.4"/>
<circle cx="904.3" cy="607.6" r="6.4" fill="#fff" stroke="#ff2412" stroke-width="3.4"/>
<circle cx="949.52" cy="593.83" r="6.4" fill="#fff" stroke="#ff2412" stroke-width="3.4"/>
<circle cx="994.75" cy="496.79" r="6.4" fill="#fff" stroke="#ff2412" stroke-width="3.4"/>
<circle cx="1039.98" cy="389.71" r="6.4" fill="#fff" stroke="#ff2412" stroke-width="3.4"/>
<circle cx="1085.21" cy="329.77" r="6.4" fill="#fff" stroke="#ff2412" stroke-width="3.4"/>
<circle cx="1130.43" cy="298.18" r="6.4" fill="#fff" stroke="#ff2412" stroke-width="3.4"/>
<circle cx="1175.66" cy="281.17" r="6.4" fill="#fff" stroke="#ff2412" stroke-width="3.4"/>
<circle cx="1220.89" cy="257.68" r="6.4" fill="#fff" stroke="#ff2412" stroke-width="3.4"/>
<circle cx="1266.12" cy="239.05" r="6.4" fill="#fff" stroke="#ff2412" stroke-width="3.4"/>
<circle cx="1311.35" cy="210.7" r="6.4" fill="#fff" stroke="#ff2412" stroke-width="3.4"/>
<circle cx="1356.57" cy="194.5" r="6.4" fill="#fff" stroke="#ff2412" stroke-width="3.4"/>
<circle cx="1401.8" cy="184.78" r="6.4" fill="#fff" stroke="#ff2412" stroke-width="3.4"/>
<polyline points="859.07,607.6 904.3,607.6 949.52,593.83 994.75,496.79 1039.98,389.71 1085.21,329.77 1130.43,298.18 1175.66,281.17 1220.89,257.68 1266.12,239.05 1311.35,210.7 1356.57,194.5 1401.8,184.78" stroke="#ff2412" stroke-width="3.6" stroke-dasharray="6.4 11.6"/>
<polygon points="859.07,600.04 865.62,611.38 852.52,611.38" fill="#fff" stroke="#46ff1e" stroke-width="3.4" stroke-linejoin="round"/>
<polygon points="904.3,600.04 910.85,611.38 897.75,611.38" fill="#fff" stroke="#46ff1e" stroke-width="3.4" stroke-linejoin="round"/>
<polygon points="949.52,600.04 956.07,611.38 942.98,611.38" fill="#fff" stroke="#46ff1e" stroke-width="3.4" stroke-linejoin="round"/>
<polygon points="994.75,600.04 1001.3,611.38 988.2,611.38" fill="#fff" stroke="#46ff1e" stroke-width="3.4" stroke-linejoin="round"/>
<polygon points="1039.98,592.75 1046.53,604.09 1033.43,604.09" fill="#fff" stroke="#46ff1e" stroke-width="3.4" stroke-linejoin="round"/>
<polygon points="1085.21,521.05 1091.76,532.39 1078.66,532.39" fill="#fff" stroke="#46ff1e" stroke-width="3.4" stroke-linejoin="round"/>
<polygon points="1130.43,392.26 1136.98,403.6 1123.88,403.6" fill="#fff" stroke="#46ff1e" stroke-width="3.4" stroke-linejoin="round"/>
<polygon points="1175.66,289.39 1182.21,300.73 1169.11,300.73" fill="#fff" stroke="#46ff1e" stroke-width="3.4" stroke-linejoin="round"/>
<polygon points="1220.89,235.93 1227.44,247.27 1214.34,247.27" fill="#fff" stroke="#46ff1e" stroke-width="3.4" stroke-linejoin="round"/>
<polygon points="1266.12,207.17 1272.67,218.52 1259.57,218.52" fill="#fff" stroke="#46ff1e" stroke-width="3.4" stroke-linejoin="round"/>
<polygon points="1311.35,189.76 1317.89,201.1 1304.8,201.1" fill="#fff" stroke="#46ff1e" stroke-width="3.4" stroke-linejoin="round"/>
<polygon points="1356.57,174.77 1363.12,186.12 1350.02,186.12" fill="#fff" stroke="#46ff1e" stroke-width="3.4" stroke-linejoin="round"/>
<polygon points="1401.8,165.46 1408.35,176.8 1395.25,176.8" fill="#fff" stroke="#46ff1e" stroke-width="3.4" stroke-linejoin="round"/>
<polyline points="859.07,607.6 904.3,607.6 949.52,607.6 994.75,607.6 1039.98,600.31 1085.21,527.41 1130.43,398.62 1175.66,295.75 1220.89,242.29 1266.12,213.54 1311.35,196.12 1356.57,181.14 1401.8,171.82" stroke="#46ff1e" stroke-width="3.6"/>
<rect x="853.77" y="602.3" width="10.6" height="10.6" fill="#fff" stroke="#46ff1e" stroke-width="3.4" stroke-linejoin="round"/>
<rect x="899" y="602.3" width="10.6" height="10.6" fill="#fff" stroke="#46ff1e" stroke-width="3.4" stroke-linejoin="round"/>
<rect x="944.23" y="602.3" width="10.6" height="10.6" fill="#fff" stroke="#46ff1e" stroke-width="3.4" stroke-linejoin="round"/>
<rect x="989.45" y="601.49" width="10.6" height="10.6" fill="#fff" stroke="#46ff1e" stroke-width="3.4" stroke-linejoin="round"/>
<rect x="1034.68" y="565.04" width="10.6" height="10.6" fill="#fff" stroke="#46ff1e" stroke-width="3.4" stroke-linejoin="round"/>
<rect x="1079.91" y="414.38" width="10.6" height="10.6" fill="#fff" stroke="#46ff1e" stroke-width="3.4" stroke-linejoin="round"/>
<rect x="1125.13" y="331.76" width="10.6" height="10.6" fill="#fff" stroke="#46ff1e" stroke-width="3.4" stroke-linejoin="round"/>
<rect x="1170.36" y="275.06" width="10.6" height="10.6" fill="#fff" stroke="#46ff1e" stroke-width="3.4" stroke-linejoin="round"/>
<rect x="1215.59" y="243.47" width="10.6" height="10.6" fill="#fff" stroke="#46ff1e" stroke-width="3.4" stroke-linejoin="round"/>
<rect x="1260.82" y="219.17" width="10.6" height="10.6" fill="#fff" stroke="#46ff1e" stroke-width="3.4" stroke-linejoin="round"/>
<rect x="1306.05" y="191.63" width="10.6" height="10.6" fill="#fff" stroke="#46ff1e" stroke-width="3.4" stroke-linejoin="round"/>
<rect x="1351.27" y="183.12" width="10.6" height="10.6" fill="#fff" stroke="#46ff1e" stroke-width="3.4" stroke-linejoin="round"/>
<rect x="1396.5" y="174.62" width="10.6" height="10.6" fill="#fff" stroke="#46ff1e" stroke-width="3.4" stroke-linejoin="round"/>
<polyline points="859.07,607.6 904.3,607.6 949.52,607.6 994.75,606.79 1039.98,570.34 1085.21,419.68 1130.43,337.06 1175.66,280.36 1220.89,248.77 1266.12,224.47 1311.35,196.93 1356.57,188.43 1401.8,179.92" stroke="#46ff1e" stroke-width="3.6"/>
<circle cx="859.07" cy="607.6" r="6.4" fill="#fff" stroke="#46ff1e" stroke-width="3.4"/>
<circle cx="904.3" cy="607.6" r="6.4" fill="#fff" stroke="#46ff1e" stroke-width="3.4"/>
<circle cx="949.52" cy="607.6" r="6.4" fill="#fff" stroke="#46ff1e" stroke-width="3.4"/>
<circle cx="994.75" cy="604.68" r="6.4" fill="#fff" stroke="#46ff1e" stroke-width="3.4"/>
<circle cx="1039.98" cy="526.03" r="6.4" fill="#fff" stroke="#46ff1e" stroke-width="3.4"/>
<circle cx="1085.21" cy="386.06" r="6.4" fill="#fff" stroke="#46ff1e" stroke-width="3.4"/>
<circle cx="1130.43" cy="311.14" r="6.4" fill="#fff" stroke="#46ff1e" stroke-width="3.4"/>
<circle cx="1175.66" cy="282.79" r="6.4" fill="#fff" stroke="#46ff1e" stroke-width="3.4"/>
<circle cx="1220.89" cy="255.25" r="6.4" fill="#fff" stroke="#46ff1e" stroke-width="3.4"/>
<circle cx="1266.12" cy="234.43" r="6.4" fill="#fff" stroke="#46ff1e" stroke-width="3.4"/>
<circle cx="1311.35" cy="220.42" r="6.4" fill="#fff" stroke="#46ff1e" stroke-width="3.4"/>
<circle cx="1356.57" cy="203.41" r="6.4" fill="#fff" stroke="#46ff1e" stroke-width="3.4"/>
<circle cx="1401.8" cy="188.43" r="6.4" fill="#fff" stroke="#46ff1e" stroke-width="3.4"/>
<polyline points="859.07,607.6 904.3,607.6 949.52,607.6 994.75,604.68 1039.98,526.03 1085.21,386.06 1130.43,311.14 1175.66,282.79 1220.89,255.25 1266.12,234.43 1311.35,220.42 1356.57,203.41 1401.8,188.43" stroke="#46ff1e" stroke-width="3.6"/>
</g>
<rect x="814" y="121.6" width="632.6" height="526.5" fill="none" stroke="#000" stroke-width="3.5"/>
<g stroke="#000" stroke-width="3.4">
<line x1="814" y1="607.6" x2="824" y2="607.6"/>
<line x1="814" y1="567.1" x2="819.2" y2="567.1"/>
<line x1="814" y1="526.6" x2="824" y2="526.6"/>
<line x1="814" y1="486.1" x2="819.2" y2="486.1"/>
<line x1="814" y1="445.6" x2="824" y2="445.6"/>
<line x1="814" y1="405.1" x2="819.2" y2="405.1"/>
<line x1="814" y1="364.6" x2="824" y2="364.6"/>
<line x1="814" y1="324.1" x2="819.2" y2="324.1"/>
<line x1="814" y1="283.6" x2="824" y2="283.6"/>
<line x1="814" y1="243.1" x2="819.2" y2="243.1"/>
<line x1="814" y1="202.6" x2="824" y2="202.6"/>
<line x1="814" y1="162.1" x2="819.2" y2="162.1"/>
<line x1="859.07" y1="648.1" x2="859.07" y2="637.9"/>
<line x1="904.3" y1="648.1" x2="904.3" y2="642.9"/>
<line x1="949.52" y1="648.1" x2="949.52" y2="637.9"/>
<line x1="994.75" y1="648.1" x2="994.75" y2="642.9"/>
<line x1="1039.98" y1="648.1" x2="1039.98" y2="637.9"/>
<line x1="1085.21" y1="648.1" x2="1085.21" y2="642.9"/>
<line x1="1130.43" y1="648.1" x2="1130.43" y2="637.9"/>
<line x1="1175.66" y1="648.1" x2="1175.66" y2="642.9"/>
<line x1="1220.89" y1="648.1" x2="1220.89" y2="637.9"/>
<line x1="1266.12" y1="648.1" x2="1266.12" y2="642.9"/>
<line x1="1311.35" y1="648.1" x2="1311.35" y2="637.9"/>
<line x1="1356.57" y1="648.1" x2="1356.57" y2="642.9"/>
<line x1="1401.8" y1="648.1" x2="1401.8" y2="637.9"/>
</g>
<text transform="translate(802.6 617.3) scale(0.79 1)" font-size="32" text-anchor="end">0</text>
<text transform="translate(802.6 536.3) scale(0.79 1)" font-size="32" text-anchor="end">10</text>
<text transform="translate(802.6 455.3) scale(0.79 1)" font-size="32" text-anchor="end">20</text>
<text transform="translate(802.6 374.3) scale(0.79 1)" font-size="32" text-anchor="end">30</text>
<text transform="translate(802.6 293.3) scale(0.79 1)" font-size="32" text-anchor="end">40</text>
<text transform="translate(802.6 212.3) scale(0.79 1)" font-size="32" text-anchor="end">50</text>
<text transform="translate(802.6 131.3) scale(0.79 1)" font-size="32" text-anchor="end">60</text>
<text transform="translate(858.87 685) scale(0.79 1)" font-size="32.4" text-anchor="middle">0.9</text>
<text transform="translate(949.32 685) scale(0.79 1)" font-size="32.4" text-anchor="middle">0.8</text>
<text transform="translate(1039.78 685) scale(0.79 1)" font-size="32.4" text-anchor="middle">0.7</text>
<text transform="translate(1130.23 685) scale(0.79 1)" font-size="32.4" text-anchor="middle">0.6</text>
<text transform="translate(1220.69 685) scale(0.79 1)" font-size="32.4" text-anchor="middle">0.5</text>
<text transform="translate(1311.14 685) scale(0.79 1)" font-size="32.4" text-anchor="middle">0.4</text>
<text transform="translate(1401.6 685) scale(0.79 1)" font-size="32.4" text-anchor="middle">0.3</text>
<text transform="translate(1136.3 721) scale(0.8 1)" font-size="32" text-anchor="middle">VDDM (V)</text>
<text transform="translate(762.4 384.85) rotate(-90) scale(0.83 1)" font-size="32" text-anchor="middle">Error Rate (%)</text>
<text transform="translate(7.2 162) scale(0.83 1)" font-size="35.5" text-anchor="start">(a)</text>
<text transform="translate(739.8 166) scale(0.83 1)" font-size="35.5" text-anchor="start">(b)</text>
<text transform="translate(258.5 185.2) scale(0.8 1)" font-size="36.8" text-anchor="start">Stored 0</text>
<text transform="translate(1004 185.2) scale(0.8 1)" font-size="36.8" text-anchor="start">Stored 1</text>
</svg></body></html>
